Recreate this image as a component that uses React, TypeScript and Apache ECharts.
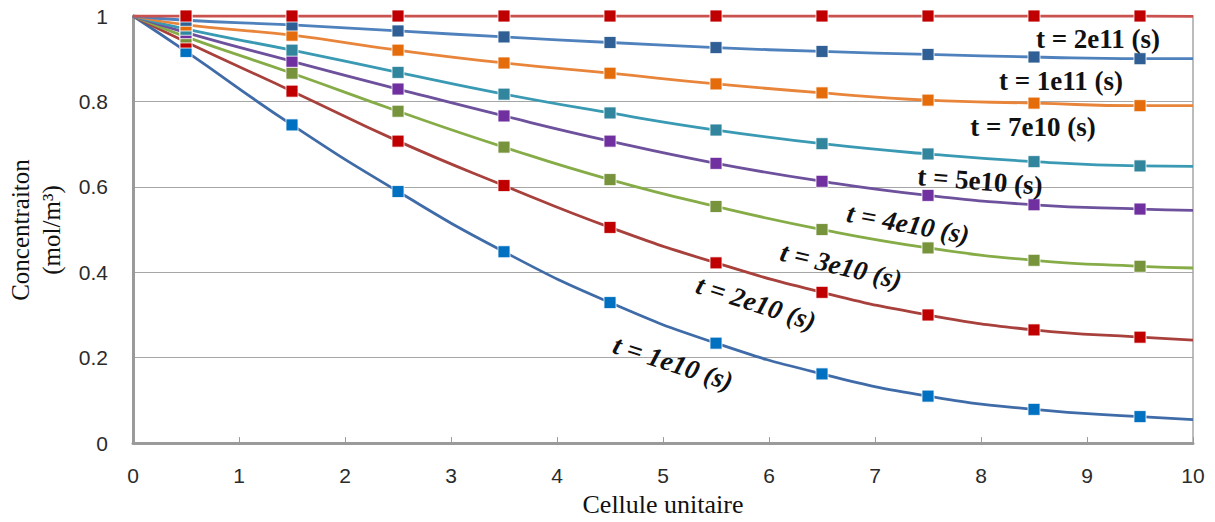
import React, { useEffect, useRef } from "react";
import * as echarts from "echarts";

// Cell centres (x) where markers are drawn
const cells = [0.5, 1.5, 2.5, 3.5, 4.5, 5.5, 6.5, 7.5, 8.5, 9.5];
const xTicks = [0, 1, 2, 3, 4, 5, 6, 7, 8, 9, 10];
const yTicks = [0, 0.2, 0.4, 0.6, 0.8, 1];

// Concentration read at cell centres
const c1e10 = [0.917, 0.745, 0.589, 0.448, 0.329, 0.234, 0.162, 0.11, 0.079, 0.062];
const c2e10 = [0.939, 0.824, 0.707, 0.603, 0.505, 0.422, 0.353, 0.3, 0.265, 0.248];
const c3e10 = [0.951, 0.866, 0.777, 0.693, 0.617, 0.554, 0.5, 0.457, 0.428, 0.414];
const c4e10 = [0.961, 0.894, 0.829, 0.766, 0.707, 0.655, 0.613, 0.58, 0.558, 0.548];
const c5e10 = [0.969, 0.92, 0.868, 0.817, 0.773, 0.733, 0.701, 0.677, 0.659, 0.649];
const c7e10 = [0.979, 0.955, 0.92, 0.89, 0.866, 0.841, 0.82, 0.803, 0.796, 0.79];
const c1e11 = [0.99, 0.979, 0.965, 0.951, 0.938, 0.926, 0.917, 0.91, 0.904, 0.9];
const c2e11 = [1, 1, 1, 1, 1, 1, 1, 1, 1, 1];

// Curve values at the boundaries x = 0 and x = 10
const startValue = 1;
const endValues = [0.055, 0.241, 0.41, 0.545, 0.648, 0.79, 0.9, 0.999];

const seriesNames = [
  "t = 1e10 (s)",
  "t = 2e10 (s)",
  "t = 3e10 (s)",
  "t = 4e10 (s)",
  "t = 5e10 (s)",
  "t = 7e10 (s)",
  "t = 1e11 (s)",
  "t = 2e11 (s)",
];
const seriesValues = [c1e10, c2e10, c3e10, c4e10, c5e10, c7e10, c1e11, c2e11];

const lineColors = ["#3F6CA8", "#A8403C", "#86AC48", "#6E519C", "#3A9AB3", "#E8853A", "#4F81BD", "#C9514E"];
const markerColors = ["#0070C0", "#C00000", "#77933C", "#7030A0", "#31859C", "#E46C0A", "#2F5F94", "#C00000"];

// Annotation placement (pixel centre, rotation in degrees, italic)
const labelLayout = [
  { x: 673, y: 363, rot: 18, italic: true },
  { x: 756, y: 303, rot: 18, italic: true },
  { x: 841, y: 266, rot: 13.5, italic: true },
  { x: 908, y: 224, rot: 10.5, italic: true },
  { x: 980, y: 181, rot: 4.5, italic: false },
  { x: 1033, y: 127, rot: 0, italic: false },
  { x: 1061, y: 81, rot: 0, italic: false },
  { x: 1098, y: 39, rot: 0, italic: false },
];

export default function App() {
  const ref = useRef<HTMLDivElement>(null);

  useEffect(() => {
    document.body.style.margin = "0";
    if (!ref.current) return;
    const chart = echarts.init(ref.current, null, { renderer: "svg" });

    const series: any[] = [];
    seriesValues.forEach((vals, i) => {
      const lineData = [[0, startValue], ...cells.map((x, k) => [x, vals[k]]), [10, endValues[i]]];
      series.push({
        name: seriesNames[i] + " curve",
        type: "line",
        data: lineData,
        smooth: 0.5,
        showSymbol: false,
        symbol: "none",
        lineStyle: { color: lineColors[i], width: 2.8 },
        z: 2 + i * 0.01,
        silent: true,
      });
    });
    seriesValues.forEach((vals, i) => {
      series.push({
        name: seriesNames[i],
        type: "scatter",
        data: cells.map((x, k) => [x, vals[k]]),
        symbol: "rect",
        symbolSize: 12,
        itemStyle: { color: markerColors[i], borderColor: "#ffffff", borderWidth: 0.8, opacity: 1 },
        z: 4 + i * 0.01,
      });
    });

    const labels = labelLayout.map((l, i) => ({
      type: "text",
      x: l.x,
      y: l.y,
      rotation: (-l.rot * Math.PI) / 180,
      z: 100,
      style: {
        text: seriesNames[i],
        fontFamily: "'Liberation Serif', 'Times New Roman', serif",
        fontSize: 27,
        fontWeight: "bold",
        fontStyle: l.italic ? "italic" : "normal",
        fill: "#111111",
        align: "center",
        verticalAlign: "middle",
      },
    }));

    chart.setOption({
      animation: false,
      backgroundColor: "#ffffff",
      grid: {
        left: 133,
        right: 22,
        top: 16,
        bottom: 76,
        show: true,
        borderColor: "#A6A6A6",
        borderWidth: 1.5,
      },
      xAxis: {
        type: "value",
        min: xTicks[0],
        max: xTicks[xTicks.length - 1],
        interval: 1,
        name: "Cellule unitaire",
        nameLocation: "middle",
        nameGap: 46,
        nameTextStyle: { fontFamily: "'Liberation Serif', serif", fontSize: 26, color: "#111111" },
        axisLine: { show: true, onZero: false, lineStyle: { color: "#9A9A9A", width: 3 } },
        axisTick: { show: true, inside: true, length: 6, lineStyle: { color: "#9A9A9A", width: 1 } },
        axisLabel: { fontFamily: "'Liberation Sans', sans-serif", fontSize: 21, color: "#2B2B2B", margin: 22 },
        splitLine: { show: false },
      },
      yAxis: {
        type: "value",
        min: yTicks[0],
        max: yTicks[yTicks.length - 1],
        interval: 0.2,
        axisLine: { show: true, onZero: false, lineStyle: { color: "#9A9A9A", width: 3 } },
        axisTick: { show: false },
        axisLabel: { fontFamily: "'Liberation Sans', sans-serif", fontSize: 21, color: "#2B2B2B", margin: 25 },
        splitLine: { show: true, lineStyle: { color: "#A6A6A6", width: 1.2 } },
      },
      graphic: [
        {
          type: "text",
          x: 36,
          y: 230,
          rotation: Math.PI / 2,
          style: {
            text: "Concentraiton\n(mol/m³)",
            fontFamily: "'Liberation Serif', serif",
            fontSize: 25,
            lineHeight: 31,
            fill: "#111111",
            align: "center",
            verticalAlign: "middle",
          },
        },
        ...labels,
      ],
      series,
    });

    return () => chart.dispose();
  }, []);

  return <div ref={ref} style={{ width: 1215, height: 522 }} />;
}
